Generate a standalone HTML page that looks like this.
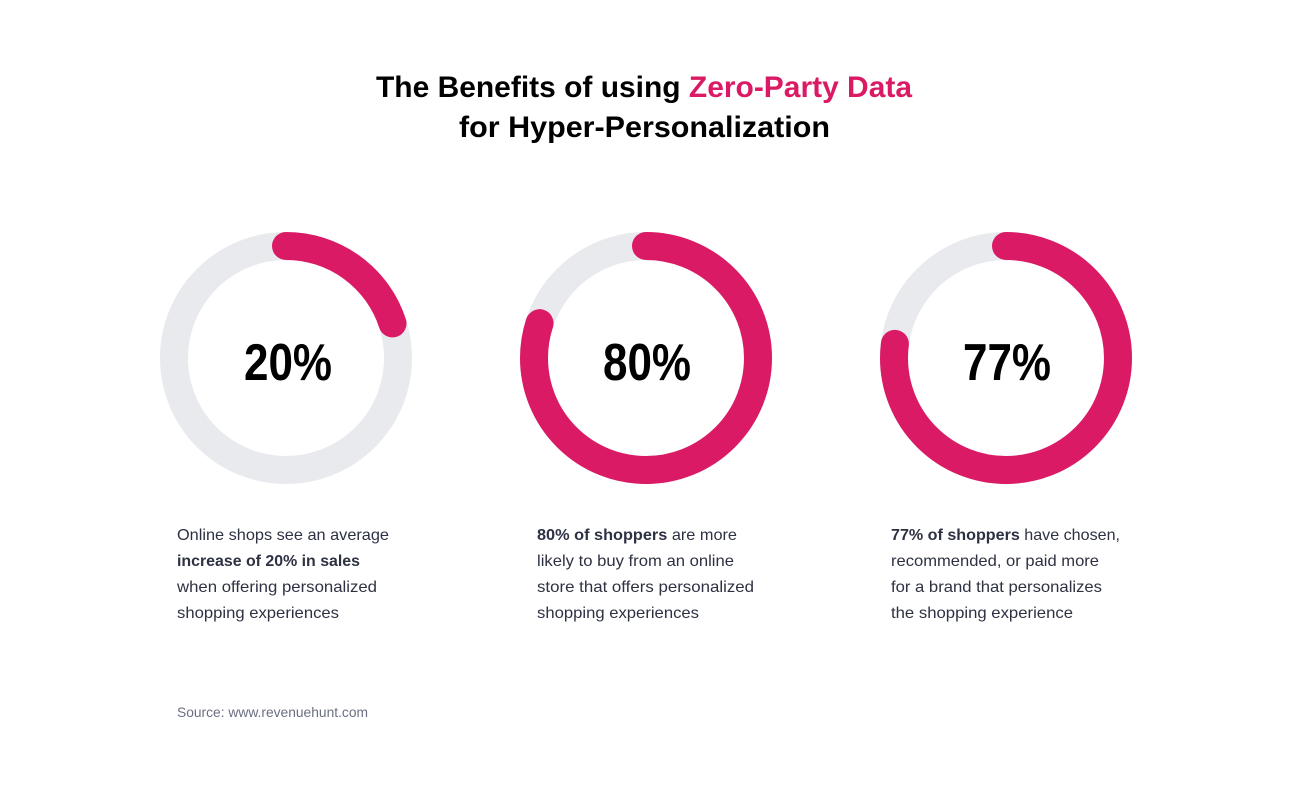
<!DOCTYPE html>
<html><head><meta charset="utf-8"><style>
html,body{margin:0;padding:0;background:#fff;}
svg{display:block;}
</style></head><body>
<svg width="1289" height="808" viewBox="0 0 1289 808" xmlns="http://www.w3.org/2000/svg">
<rect width="1289" height="808" fill="#fff"/>
<g font-family="'Liberation Sans', sans-serif" font-weight="bold" font-size="30">
<text x="376" y="97" textLength="536" lengthAdjust="spacingAndGlyphs" fill="#000">The Benefits of using <tspan fill="#DB1A65">Zero-Party Data</tspan></text>
<text x="459" y="137" textLength="371" lengthAdjust="spacingAndGlyphs" fill="#000">for Hyper-Personalization</text>
</g>
<g fill="none" stroke-width="28">
<circle cx="286" cy="358" r="112" stroke="#E9EAEE"/>
<circle cx="646" cy="358" r="112" stroke="#E9EAEE"/>
<circle cx="1006" cy="358" r="112" stroke="#E9EAEE"/>
<circle cx="286" cy="358" r="112" stroke="#DB1A65" stroke-linecap="round" stroke-dasharray="140.7 1000" transform="rotate(-90 286 358)"/>
<circle cx="646" cy="358" r="112" stroke="#DB1A65" stroke-linecap="round" stroke-dasharray="563 1000" transform="rotate(-90 646 358)"/>
<circle cx="1006" cy="358" r="112" stroke="#DB1A65" stroke-linecap="round" stroke-dasharray="541.8 1000" transform="rotate(-90 1006 358)"/>
</g>
<g font-family="'Liberation Sans', sans-serif" font-weight="bold" font-size="52" fill="#000">
<text x="244" y="380" textLength="88" lengthAdjust="spacingAndGlyphs">20%</text>
<text x="603" y="380" textLength="88" lengthAdjust="spacingAndGlyphs">80%</text>
<text x="963" y="380" textLength="88" lengthAdjust="spacingAndGlyphs">77%</text>
</g>
<g font-family="'Liberation Sans', sans-serif" font-size="16" fill="#2D3142" lengthAdjust="spacingAndGlyphs">
<text x="177" y="540" textLength="212" lengthAdjust="spacingAndGlyphs">Online shops see an average</text>
<text x="177" y="566" font-weight="bold" textLength="183" lengthAdjust="spacingAndGlyphs">increase of 20% in sales</text>
<text x="177" y="592" textLength="200" lengthAdjust="spacingAndGlyphs">when offering personalized</text>
<text x="177" y="618" textLength="162" lengthAdjust="spacingAndGlyphs">shopping experiences</text>
<text x="537" y="540" textLength="200" lengthAdjust="spacingAndGlyphs"><tspan font-weight="bold">80% of shoppers</tspan> are more</text>
<text x="537" y="566" textLength="197" lengthAdjust="spacingAndGlyphs">likely to buy from an online</text>
<text x="537" y="592" textLength="217" lengthAdjust="spacingAndGlyphs">store that offers personalized</text>
<text x="537" y="618" textLength="162" lengthAdjust="spacingAndGlyphs">shopping experiences</text>
<text x="891" y="540" textLength="229" lengthAdjust="spacingAndGlyphs"><tspan font-weight="bold">77% of shoppers</tspan> have chosen,</text>
<text x="891" y="566" textLength="208" lengthAdjust="spacingAndGlyphs">recommended, or paid more</text>
<text x="891" y="592" textLength="211" lengthAdjust="spacingAndGlyphs">for a brand that personalizes</text>
<text x="891" y="618" textLength="182" lengthAdjust="spacingAndGlyphs">the shopping experience</text>
</g>
<text x="177" y="717" font-family="'Liberation Sans', sans-serif" font-size="13.5" fill="#6B6F80" textLength="191" lengthAdjust="spacingAndGlyphs">Source: www.revenuehunt.com</text>
</svg>
</body></html>
